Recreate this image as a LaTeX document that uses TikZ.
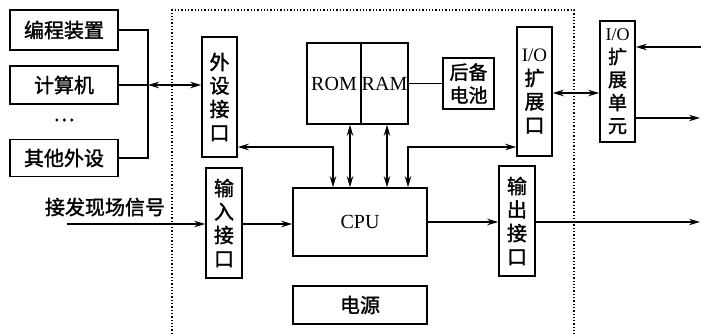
\documentclass[tikz,border=0pt]{standalone}
\usepackage{fontspec}
\setmainfont{Liberation Serif}
\newfontfamily\cjk{Noto Sans CJK SC}[AutoFakeBold=1.5]
\usetikzlibrary{arrows.meta}
\begin{document}
\begin{tikzpicture}[x=1pt,y=-1pt,
  box/.style={draw,line width=1.6pt,inner sep=0pt,align=center},
  zh/.style={font=\cjk\bfseries\fontsize{20}{23.5}\selectfont},
  en/.style={font=\fontsize{20}{22}\selectfont},
  io/.style={font=\rmfamily\mdseries\fontsize{19}{21}\selectfont},
  conn/.style={line width=1.4pt},
  arr/.style={conn,-{Stealth[length=11pt,width=6.5pt]}},
  darr/.style={conn,{Stealth[length=11pt,width=6.5pt]}-{Stealth[length=11pt,width=6.5pt]}},
  frame/.style={line width=1.3pt,dotted}]
\useasboundingbox (0,0) rectangle (701,334);
% left devices
\node[box,zh,minimum width=108pt,minimum height=40pt] (bc) at (64,30) {编程装置};
\node[box,zh,minimum width=108pt,minimum height=38pt] (jsj) at (64,85) {计算机};
\node[zh] (dots) at (64,120) {…};
\node[box,zh,minimum width=108pt,minimum height=37pt] (qt) at (64,158) {其他外设};
\coordinate (busT) at (148,30);
\coordinate (busM) at (148,85);
\coordinate (busB) at (148,158);
\draw[conn] (bc.east) -- (busT) -- (busB) -- (qt.east);
\draw[conn] (jsj.east) -- (busM);
% frame
\draw[frame] (172,334) -- (172,10) -- (574,10) -- (574,334);
% inner blocks
\node[box,zh,minimum width=35pt,minimum height=120pt] (wsj) at (219.5,97) {外\\设\\接\\口};
\node[box,en,minimum width=54pt,minimum height=81pt] (rom) at (334,83.5) {ROM};
\node[box,en,minimum width=47pt,minimum height=81pt] (ram) at (384.5,83.5) {RAM};
\node[box,zh,minimum width=51pt,minimum height=51pt,font=\cjk\bfseries\fontsize{19}{23}\selectfont] (bat) at (468.5,83.5) {后备\\电池};
\node[box,zh,minimum width=35pt,minimum height=129pt] (ioe) at (534.5,91.5) {{\rmfamily\mdseries\fontsize{19}{21}\selectfont I/O}\\扩\\展\\口};
\node[box,zh,minimum width=35pt,minimum height=121pt,font=\cjk\bfseries\fontsize{19}{23}\selectfont] (iou) at (617.5,81.5) {{\rmfamily\mdseries\fontsize{18}{20}\selectfont I/O}\\扩\\展\\单\\元};
\node[box,zh,minimum width=36pt,minimum height=110pt] (inp) at (224,223) {输\\入\\接\\口};
\node[box,en,minimum width=134pt,minimum height=68pt] (cpu) at (360,222) {CPU};
\node[box,zh,minimum width=134pt,minimum height=38pt] (pwr) at (360,305) {电源};
\node[box,zh,minimum width=36pt,minimum height=110pt] (outp) at (517,221) {输\\出\\接\\口};
\node[zh] (sig) at (105,207) {接发现场信号};
% connectors
\draw[darr] (busM) -- (wsj.west |- busM);
\coordinate (c1) at (333,147);
\coordinate (c2) at (408,147);
\draw[darr] (wsj.east |- c1) -- (c1) -- (c1 |- cpu.north);
\draw[darr] ([xshift=16pt]rom.south) -- ([xshift=16pt]rom.south |- cpu.north);
\draw[darr] ([xshift=2.5pt]ram.south) -- ([xshift=2.5pt]ram.south |- cpu.north);
\draw[darr] (c2 |- cpu.north) -- (c2) -- (ioe.west |- c2);
\draw[conn] (ram.east) -- (bat.west);
\coordinate (c3) at (576,93);
\draw[darr] (ioe.east |- c3) -- (iou.west |- c3);
\coordinate (rin) at (701,47);
\coordinate (rout) at (700,118);
\draw[arr] (rin) -- (iou.east |- rin);
\draw[arr] (iou.east |- rout) -- (rout);
\coordinate (sin) at (67,224);
\draw[arr] (sin) -- (inp.west |- sin);
\draw[arr] (inp.east |- sin) -- (cpu.west |- sin);
\coordinate (oend) at (700,222);
\draw[arr] (cpu.east |- oend) -- (outp.west |- oend);
\draw[arr] (outp.east |- oend) -- (oend);
\end{tikzpicture}
\end{document}
